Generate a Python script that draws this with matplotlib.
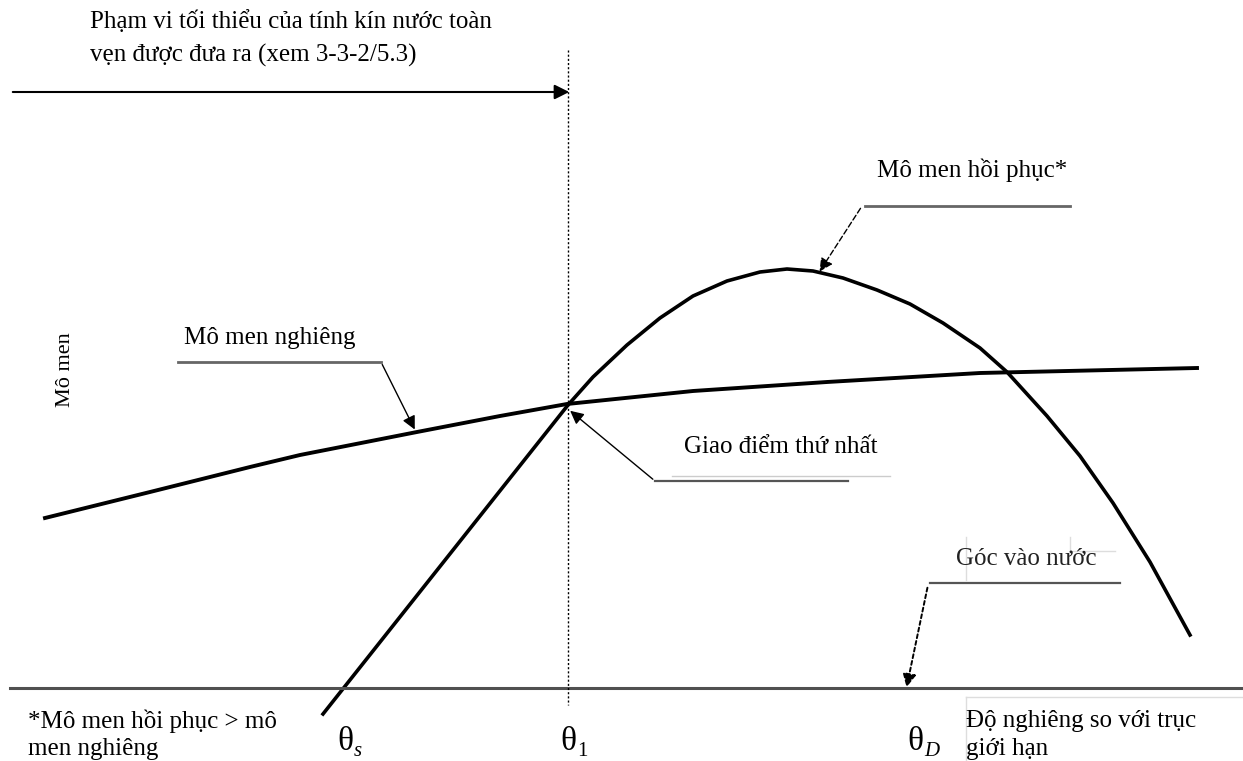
import matplotlib
matplotlib.use("Agg")
import matplotlib.pyplot as plt
import numpy as np

plt.rcParams['font.family'] = ['Liberation Serif', 'DejaVu Serif']

# curves (pixel-like units, y grows downward)
heel_x = [45, 150, 250, 300, 417, 500, 567, 693, 827, 980, 1197]
heel_y = [518, 492, 467, 455, 432, 416, 404, 391, 382, 373, 368]

right_x = [323, 568, 593, 627, 660, 693, 727, 760, 787, 813, 843, 877, 910, 943, 980, 1007,
           1047, 1080, 1113, 1150, 1190]
right_y = [714, 405, 377, 345, 318, 296, 281, 272, 269, 271, 278, 290, 304, 323, 348, 372,
           416, 456, 503, 562, 635]

theta_x = [345, 568, 915]
theta_lab = ['s', '1', 'D']

fs = 18

fig = plt.figure(figsize=(12.43, 7.61), dpi=100)
ax = fig.add_axes([0, 0, 1, 1])
ax.set_xlim(0, 1243)
ax.set_ylim(761, 0)
ax.axis('off')

ax.plot(heel_x, heel_y, color='black', lw=2.8, solid_joinstyle='round')
ax.plot(right_x, right_y, color='black', lw=2.6, solid_joinstyle='round')

# base line and theta_1 dotted line
ax.plot([10, 1243], [688, 688], color='#505050', lw=2.2)
ax.plot([568, 568], [50, 705], color='black', lw=1, ls=(0, (1.5, 1.5)))

# top arrow
ax.annotate('', xy=(572, 92), xytext=(10, 92),
            arrowprops=dict(arrowstyle='-|>', color='black', lw=1.5, mutation_scale=22))
ax.text(90, 22, 'Phạm vi tối thiểu của tính kín nước toàn', fontsize=fs, va='center')
ax.text(90, 55, 'vẹn được đưa ra (xem 3-3-2/5.3)', fontsize=fs, va='center')

ax.text(66, 370, 'Mô men', fontsize=16, rotation=90, va='center', ha='center')

# callouts
ax.text(877, 170, 'Mô men hồi phục*', fontsize=fs, va='center')
ax.plot([865, 1070], [206, 206], color='#666666', lw=2)
ax.annotate('', xy=(818, 274), xytext=(862, 206),
            arrowprops=dict(arrowstyle='-|>', color='black', lw=1, ls=(0, (4, 2)), mutation_scale=20))

ax.text(184, 338, 'Mô men nghiêng', fontsize=fs, va='center')
ax.plot([178, 381], [362, 362], color='#666666', lw=2)
ax.annotate('', xy=(416, 432), xytext=(381, 362),
            arrowprops=dict(arrowstyle='-|>', color='black', lw=1, mutation_scale=20))

ax.text(684, 447, 'Giao điểm thứ nhất', fontsize=fs, va='center')
ax.plot([672, 890], [476, 476], color='#cccccc', lw=1)
ax.plot([655, 848], [481, 481], color='#555555', lw=1.6)
ax.annotate('', xy=(568, 409), xytext=(655, 481),
            arrowprops=dict(arrowstyle='-|>', color='black', lw=1, mutation_scale=20))

ax.text(956, 559, 'Góc vào nước', fontsize=fs, va='center', color='#222222')
ax.plot([930, 1120], [583, 583], color='#555555', lw=1.6)
ax.plot([966, 966], [537, 580], color='#dddddd', lw=1)
ax.plot([1070, 1070, 1115], [537, 551, 551], color='#dddddd', lw=1)
ax.annotate('', xy=(906, 690), xytext=(928, 585),
            arrowprops=dict(arrowstyle='-|>', color='black', lw=1.4, ls=(0, (2, 1.5)), mutation_scale=20))

# bottom texts
ax.text(28, 721, '*Mô men hồi phục > mô', fontsize=fs, va='center')
ax.text(28, 749, 'men nghiêng', fontsize=fs, va='center')
ax.plot([966, 966], [697, 761], color='#dddddd', lw=1)
ax.plot([966, 1243], [697, 697], color='#dddddd', lw=1)
ax.text(966, 721, 'Độ nghiêng so với trục', fontsize=fs, va='center')
ax.text(966, 749, 'giới hạn', fontsize=fs, va='center')

for x, lab in zip(theta_x, theta_lab):
    ax.text(x, 742, 'θ', fontsize=24, ha='center', va='center')
    ax.text(x + 9, 752, lab, fontsize=15, ha='left', va='center',
            style='italic' if lab != '1' else 'normal')

fig.savefig('out.png', dpi=100)
